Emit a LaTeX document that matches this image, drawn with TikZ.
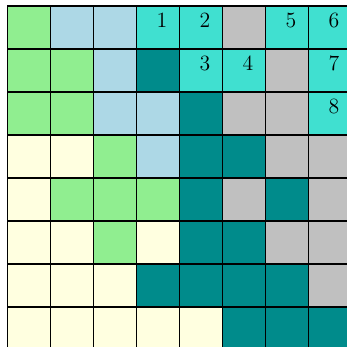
\documentclass[tikz,border=0pt]{standalone}
\usepackage{tikz}
\definecolor{grn}{RGB}{144,238,144}
\definecolor{blu}{RGB}{173,216,230}
\definecolor{tur}{RGB}{64,224,208}
\definecolor{tea}{RGB}{0,139,139}
\definecolor{sil}{RGB}{192,192,192}
\definecolor{yel}{RGB}{255,255,224}

\begin{document}
\begin{tikzpicture}[cell/.style={draw, line width=0.9pt, minimum size=1cm,
                      inner sep=0pt},
                    num/.style={font=\Large, inner sep=0pt}]
  \clip (-0.174,-7.93) rectangle (7.895,0.14);
  % one row per line, colours from left to right
  \foreach \row/\cols in {1/{grn,blu,blu,tur,tur,sil,tur,tur},
                          2/{grn,grn,blu,tea,tur,tur,sil,tur},
                          3/{grn,grn,blu,blu,tea,sil,sil,tur},
                          4/{yel,yel,grn,blu,tea,tea,sil,sil},
                          5/{yel,grn,grn,grn,tea,sil,tea,sil},
                          6/{yel,yel,grn,yel,tea,tea,sil,sil},
                          7/{yel,yel,yel,tea,tea,tea,tea,sil},
                          8/{yel,yel,yel,yel,yel,tea,tea,tea}}
    \foreach \c [count=\col] in \cols
      \node[cell, fill=\c] (c\row\col) at (\col-0.5,-\row+0.5) {};
  \node[num] (n1) at ([shift={(0.09,0.17)}]c14) {1};
  \node[num] (n2) at ([shift={(0.09,0.17)}]c15) {2};
  \node[num] (n3) at ([shift={(0.09,0.17)}]c25) {3};
  \node[num] (n4) at ([shift={(0.09,0.17)}]c26) {4};
  \node[num] (n5) at ([shift={(0.09,0.17)}]c17) {5};
  \node[num] (n6) at ([shift={(0.09,0.17)}]c18) {6};
  \node[num] (n7) at ([shift={(0.09,0.17)}]c28) {7};
  \node[num] (n8) at ([shift={(0.09,0.17)}]c38) {8};
\end{tikzpicture}
\end{document}
